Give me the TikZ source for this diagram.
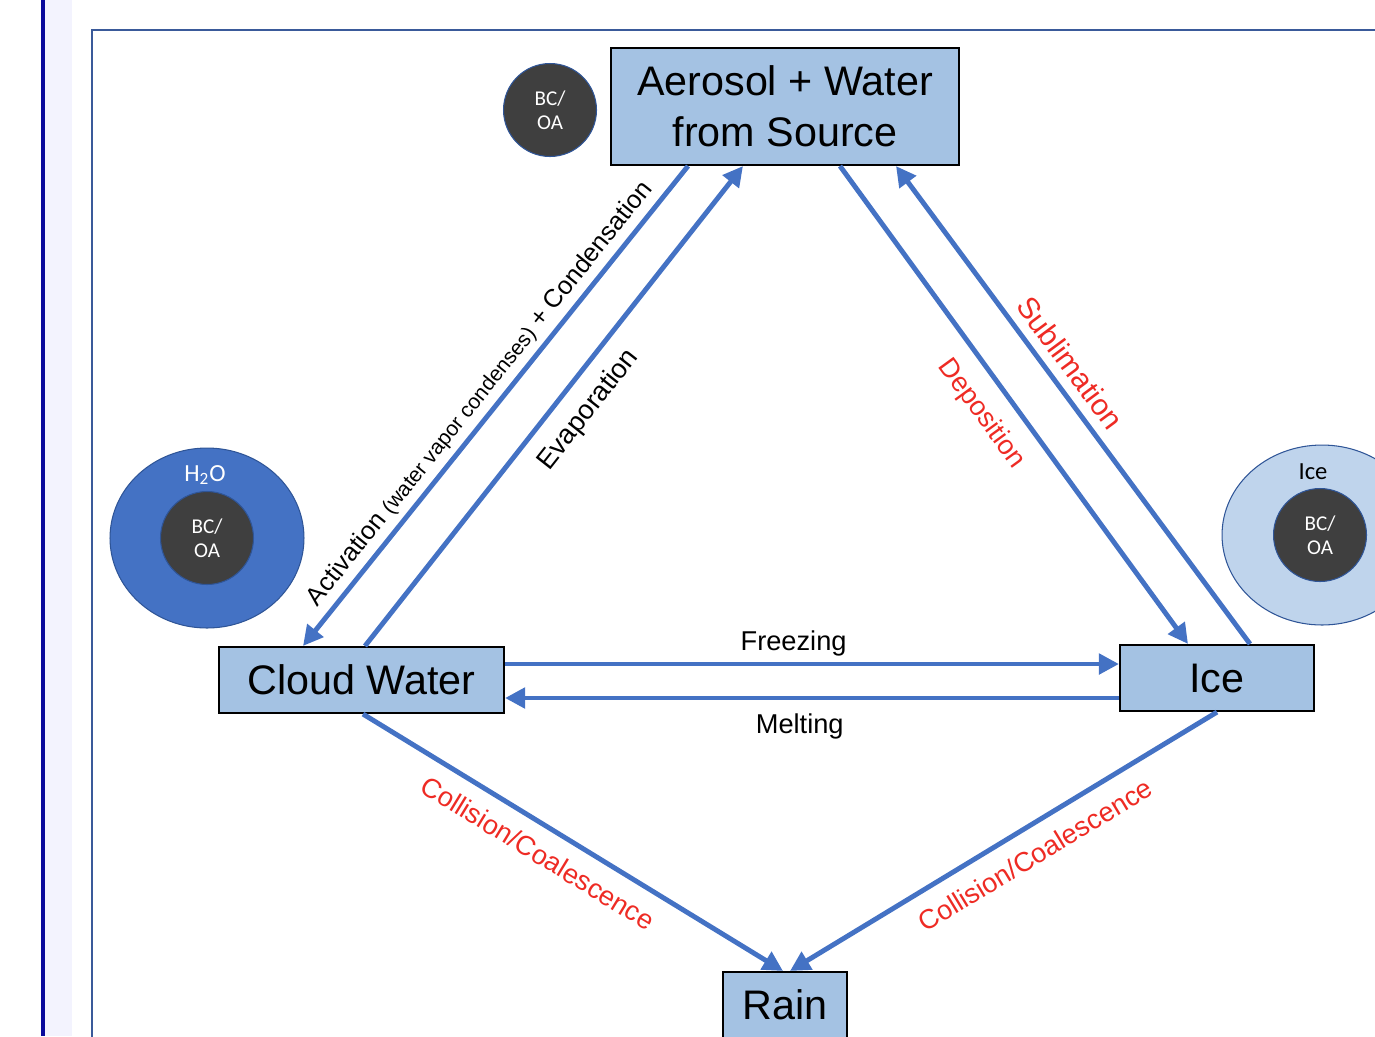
\documentclass[tikz,border=0pt]{standalone}
\usepackage{fontspec}
\setmainfont{Liberation Sans}
\newfontfamily\calfont{Carlito}
\usetikzlibrary{shapes.geometric, arrows.meta, calc}
\definecolor{flowblue}{HTML}{4472C4}
\definecolor{boxblue}{HTML}{A4C2E3}
\definecolor{ringblue}{HTML}{2F5597}
\definecolor{coregray}{HTML}{3F3F3F}
\definecolor{icering}{HTML}{BFD4EC}
\definecolor{labelred}{HTML}{EE2B24}
\definecolor{pageblue}{HTML}{0A0A9C}
\definecolor{pagelav}{HTML}{F3F3FE}
\definecolor{framec}{HTML}{3A5A9A}
\tikzstyle{state} = [rectangle, draw=black, line width=1.2pt, fill=boxblue, text centered, font=\fontsize{23.5}{29}\selectfont, inner sep=0pt]
\tikzstyle{core} = [circle, draw=ringblue, line width=0.6pt, fill=coregray, text=white, align=center, font=\calfont\fontsize{12}{13.7}\selectfont, minimum size=1.86cm, inner sep=0pt]
\tikzstyle{shell} = [ellipse, draw=ringblue, line width=0.6pt, inner sep=0pt]
\tikzstyle{flow} = [line width=2.8pt, draw=flowblue, -{Triangle[length=0.4cm, width=0.4cm]}]
\tikzstyle{lab} = [font=\fontsize{15.5}{18}\selectfont, sloped]
\tikzstyle{redlab} = [lab, text=labelred]

\begin{document}
\begin{tikzpicture}[x=0.02cm, y=-0.02cm]
\useasboundingbox (0,0) rectangle (1375,1036);
\clip (0,0) rectangle (1375,1036);
% page edge and frame
\fill [pagelav] (45,0) rectangle (72,1036);
\fill [pageblue] (41,0) rectangle (45,1036);
\draw [framec, line width=1.2pt] (92,30) rectangle (1420,1080);

% states
\node [state, align=center, minimum width=6.96cm, minimum height=2.34cm] at (785,106.5) (src) {Aerosol + Water\\from Source};
\node [state, minimum width=5.7cm, minimum height=1.32cm] at (361.5,680) (cloud) {Cloud Water};
\node [state, minimum width=3.88cm, minimum height=1.32cm] at (1217,678) (ice) {Ice};
\node [state, minimum width=2.48cm, minimum height=1.32cm] at (785,1005) (rain) {Rain};

% particles
\node [core] at (550,110) (aer) {BC/\\OA};
\node [shell, fill=flowblue, minimum width=3.88cm, minimum height=3.6cm] at (207,538) (drop) {};
\node [core] at (207,538) (dropcore) {BC/\\OA};
\node [text=white, font=\calfont\fontsize{14}{16}\selectfont] at (205,475) (droplab) {H\textsubscript{2}O};
\node [shell, fill=icering, minimum width=4cm, minimum height=3.6cm] at (1322,535) (crystal) {};
\node [core] at (1320,535) (crystalcore) {BC/\\OA};
\node [font=\calfont\fontsize{14}{16}\selectfont] at (1313,472) (crystallab) {Ice};

% processes
\draw [flow] ($(src.south)+(-97,0)$) -- node[lab, above, pos=0.5, font=\fontsize{14.5}{18}\selectfont] {Activation {\fontsize{12}{14}\selectfont(water vapor condenses)} + Condensation} ($(cloud.north)+(-58.5,0)$);
\draw [flow] ($(cloud.north)+(3.5,0)$) -- node[lab, below=5pt, pos=0.53] {Evaporation} ($(src.south)+(-42,0)$);
\draw [flow] ($(src.south)+(55,0)$) -- node[redlab, below=6pt, pos=0.48] {Deposition} ($(ice.north)+(-29,0)$);
\draw [flow] ($(ice.north)+(33,0)$) -- node[redlab, above=2pt, pos=0.56, font=\fontsize{17}{20}\selectfont] {Sublimation} ($(src.south)+(111,0)$);
\draw [flow] ($(cloud.east)+(0,-16)$) -- node[lab, above, pos=0.47] {Freezing} ($(ice.west)+(0,-14)$);
\draw [flow] ($(ice.west)+(0,20)$) -- node[lab, below=4pt, pos=0.52] {Melting} ($(cloud.east)+(0,18)$);
\draw [flow] ($(cloud.south)+(1.5,0)$) -- node[redlab, below=5pt, pos=0.45] {Collision/Coalescence} ($(rain.north)+(-2,0)$);
\draw [flow] (ice.south) -- node[redlab, below=5.5pt, pos=0.46] {Collision/Coalescence} ($(rain.north)+(5,0)$);
\end{tikzpicture}
\end{document}
